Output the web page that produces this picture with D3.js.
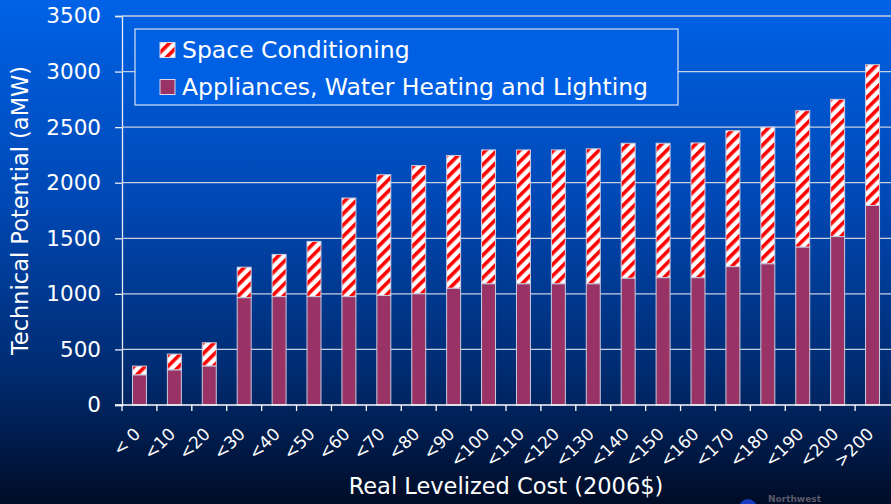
<!DOCTYPE html>
<html>
<head>
<meta charset="utf-8">
<script src="https://cdn.jsdelivr.net/npm/d3@7"></script>
<style>
  body { margin: 0; background: #00102e; }
  svg { display: block; }
  text { font-family: "DejaVu Sans", Verdana, sans-serif; fill: #ffffff; }
</style>
</head>
<body>
<script>
// categories and stacked values (aMW)
var categories = ["< 0", "<10", "<20", "<30", "<40", "<50", "<60", "<70", "<80", "<90", "<100",
                  "<110", "<120", "<130", "<140", "<150", "<160", "<170", "<180", "<190", "<200", ">200"];
var appliances = [270, 315, 350, 965, 975, 975, 975, 985, 1000, 1050, 1090,
                  1090, 1090, 1090, 1140, 1145, 1145, 1245, 1270, 1420, 1515, 1795];
var totals = [350, 458, 560, 1240, 1355, 1472, 1862, 2072, 2155, 2245, 2295,
              2295, 2295, 2305, 2355, 2355, 2358, 2468, 2500, 2648, 2750, 3062];
var yTicks = [0, 500, 1000, 1500, 2000, 2500, 3000, 3500];
var seriesNames = ["Space Conditioning", "Appliances, Water Heating and Lighting"];

var width = 891, height = 504;
var margin = {left: 122, right: 1, top: 16, bottom: 99};

var svg = d3.select("body").append("svg")
    .attr("width", width)
    .attr("height", height);

var defs = svg.append("defs");

// background gradient
var grad = defs.append("linearGradient")
    .attr("id", "bg").attr("x1", 0).attr("y1", 0).attr("x2", 0).attr("y2", 1);
grad.append("stop").attr("offset", "0%").attr("stop-color", "#0062e6");
grad.append("stop").attr("offset", "40%").attr("stop-color", "#0048b4");
grad.append("stop").attr("offset", "75%").attr("stop-color", "#002a6e");
grad.append("stop").attr("offset", "100%").attr("stop-color", "#000c26");

svg.append("rect").attr("width", width).attr("height", height).attr("fill", "url(#bg)");

// red/white diagonal stripes
var pat = defs.append("pattern")
    .attr("id", "stripes")
    .attr("patternUnits", "userSpaceOnUse")
    .attr("width", 8).attr("height", 8)
    .attr("patternTransform", "rotate(45)");
pat.append("rect").attr("width", 8).attr("height", 8).attr("fill", "#ffffff");
pat.append("rect").attr("width", 3.6).attr("height", 8).attr("fill", "#ff0000");

var x = d3.scaleBand()
    .domain(categories)
    .range([margin.left, width - margin.right])
    .paddingInner(0.6)
    .paddingOuter(0.3);

var y = d3.scaleLinear()
    .domain([0, 3500])
    .range([height - margin.bottom, margin.top]);

// gridlines + y axis
var yAxis = svg.append("g")
    .attr("transform", "translate(" + margin.left + ",0)")
    .call(d3.axisLeft(y).tickValues(yTicks).tickSize(7).tickPadding(14).tickFormat(d3.format("d")));
yAxis.select(".domain").attr("stroke", "#e8ecf6").attr("stroke-width", 1.3);
yAxis.selectAll(".tick line").attr("stroke", "#e8ecf6").attr("stroke-width", 1.3);
yAxis.selectAll(".tick text").attr("font-size", 21.5).attr("fill", "#ffffff")
    .attr("font-family", "DejaVu Sans, Verdana, sans-serif");

svg.append("g").selectAll("line")
    .data(yTicks.filter(function(d) { return d > 0; }))
    .enter().append("line")
    .attr("x1", margin.left).attr("x2", width)
    .attr("y1", function(d) { return y(d); })
    .attr("y2", function(d) { return y(d); })
    .attr("stroke", "#c8d0e4").attr("stroke-width", 1.3);

// bars
var data = categories.map(function(c, i) {
    return {cat: c, low: appliances[i], total: totals[i]};
});

var bars = svg.append("g");
bars.selectAll(".top")
    .data(data)
    .enter().append("rect")
    .attr("class", "top")
    .attr("x", function(d) { return x(d.cat); })
    .attr("width", x.bandwidth())
    .attr("y", function(d) { return y(d.total); })
    .attr("height", function(d) { return y(d.low) - y(d.total); })
    .attr("fill", "url(#stripes)")
    .attr("stroke", "#c8cce0").attr("stroke-width", 1);

bars.selectAll(".low")
    .data(data)
    .enter().append("rect")
    .attr("class", "low")
    .attr("x", function(d) { return x(d.cat); })
    .attr("width", x.bandwidth())
    .attr("y", function(d) { return y(d.low); })
    .attr("height", function(d) { return y(0) - y(d.low); })
    .attr("fill", "#993366")
    .attr("stroke", "#c8cce0").attr("stroke-width", 1);

// x axis with ticks between categories
var xg = svg.append("g");
xg.append("line")
    .attr("x1", margin.left - 7).attr("x2", width)
    .attr("y1", y(0)).attr("y2", y(0))
    .attr("stroke", "#ffffff").attr("stroke-width", 1.3);
var step = x.step();
xg.selectAll(".xt")
    .data(categories)
    .enter().append("line")
    .attr("x1", function(d) { return x(d) + x.bandwidth() / 2 - step / 2; })
    .attr("x2", function(d) { return x(d) + x.bandwidth() / 2 - step / 2; })
    .attr("y1", y(0)).attr("y2", y(0) + 6)
    .attr("stroke", "#ffffff").attr("stroke-width", 1.3);

xg.selectAll(".xl")
    .data(categories)
    .enter().append("text")
    .attr("transform", function(d) {
        return "translate(" + (x(d) + x.bandwidth() / 2 + 2) + "," + (y(0) + 30) + ") rotate(-45)";
    })
    .attr("text-anchor", "end")
    .attr("font-size", 17)
    .text(function(d) { return d; });

// axis titles
svg.append("text")
    .attr("transform", "translate(28," + ((y(0) + y(3500)) / 2) + ") rotate(-90)")
    .attr("text-anchor", "middle")
    .attr("font-size", 22.5)
    .text("Technical Potential (aMW)");

svg.append("text")
    .attr("x", 506).attr("y", 494)
    .attr("text-anchor", "middle")
    .attr("font-size", 22.5)
    .text("Real Levelized Cost (2006$)");

// legend
var lg = svg.append("g").attr("transform", "translate(135,29)");
lg.append("rect")
    .attr("width", 543).attr("height", 76)
    .attr("fill", "#0060e4")
    .attr("stroke", "#d8e0f4").attr("stroke-width", 1.2);
var items = lg.selectAll(".item")
    .data(seriesNames)
    .enter().append("g")
    .attr("transform", function(d, i) { return "translate(25," + (21 + i * 37) + ")"; });
items.append("rect")
    .attr("x", 0).attr("y", -7.5).attr("width", 15).attr("height", 15)
    .attr("fill", function(d, i) { return i === 0 ? "url(#stripes)" : "#993366"; })
    .attr("stroke", "#d8d8e8").attr("stroke-width", 1);
items.append("text")
    .attr("x", 22).attr("y", 0).attr("dy", "0.36em")
    .attr("font-size", 23.5)
    .text(function(d) { return d; });

// logo corner
svg.append("circle").attr("cx", 748).attr("cy", 508).attr("r", 9).attr("fill", "#1a3cc0");
svg.append("text")
    .attr("x", 768).attr("y", 502)
    .attr("font-size", 9).attr("font-weight", "bold")
    .attr("font-family", "Liberation Serif, serif")
    .style("fill", "#5a5a6a")
    .text("Northwest");
</script>
</body>
</html>
